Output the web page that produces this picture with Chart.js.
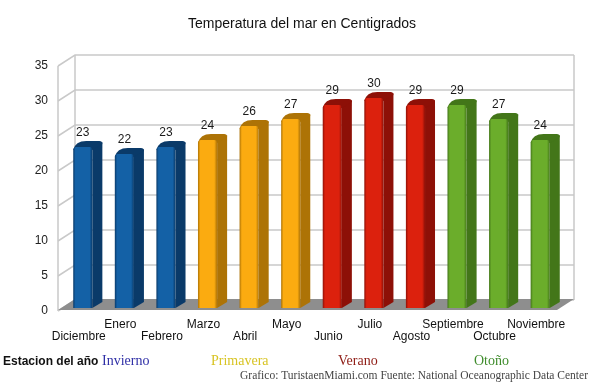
<!DOCTYPE html>
<html>
<head>
<meta charset="utf-8">
<title>Temperatura del mar</title>
<script src="https://cdn.jsdelivr.net/npm/chart.js@4.4.1/dist/chart.umd.min.js"></script>
<style>
  html, body { margin: 0; padding: 0; background: #fff; }
  #wrap { width: 600px; height: 391px; position: relative; }
</style>
</head>
<body>
<div id="wrap"><canvas id="seaChart"></canvas></div>
<script>
// Data
const months = ["Diciembre", "Enero", "Febrero", "Marzo", "Abril", "Mayo",
  "Junio", "Julio", "Agosto", "Septiembre", "Octubre", "Noviembre"];
const temps = [23, 22, 23, 24, 26, 27, 29, 30, 29, 29, 27, 24];
const monthSeason = [0, 0, 0, 1, 1, 1, 2, 2, 2, 3, 3, 3];
const seasonNames = ["Invierno", "Primavera", "Verano", "Otoño"];
const chartTitle = "Temperatura del mar en Centigrados";
const legendTitle = "Estacion del año";
const sourceText = "Grafico: TuristaenMiami.com Fuente: National Oceanographic Data Center";

// Colours per season
const frontColors = ["#1461a6", "#fbab10", "#dc210d", "#6bad2b"];
const sideColors = ["#0a3a69", "#ad7306", "#8d1007", "#437619"];
const seasonTextColors = ["#2f2fa6", "#d8c424", "#8e1b14", "#3f8c2c"];

const FONT = "'Liberation Sans', Arial, Helvetica, sans-serif";
const SERIF = "'Liberation Serif', 'Times New Roman', serif";

// 3D geometry (pixels)
const WALL_DX = 17, WALL_DY = -11;
const BAR_DX = 10, BAR_DY = -6;
const BAR_SHIFT_X = 4, BAR_SHIFT_Y = -3;

// staggered month labels: even index on the lower line, odd on the upper
const tickLabels = months.map((m, i) => (i % 2 === 0 ? ["", m] : [m, ""]));

const depth3d = {
  id: "depth3d",
  beforeDatasetsDraw(chart) {
    const { ctx, chartArea: a, scales: { y } } = chart;
    ctx.save();
    ctx.strokeStyle = "#c9c9c9";
    ctx.lineWidth = 1.5;

    // back wall + left wall gridlines
    y.ticks.forEach((t) => {
      const py = y.getPixelForValue(t.value);
      ctx.beginPath();
      ctx.moveTo(a.left, py);
      ctx.lineTo(a.left + WALL_DX, py + WALL_DY);
      ctx.lineTo(a.right + WALL_DX, py + WALL_DY);
      ctx.stroke();
    });

    // wall edges
    ctx.beginPath();
    ctx.moveTo(a.left, a.top);
    ctx.lineTo(a.left, a.bottom);
    ctx.moveTo(a.left + WALL_DX, a.top + WALL_DY);
    ctx.lineTo(a.left + WALL_DX, a.bottom + WALL_DY);
    ctx.moveTo(a.right + WALL_DX, a.top + WALL_DY);
    ctx.lineTo(a.right + WALL_DX, a.bottom + WALL_DY);
    ctx.stroke();

    // floor
    const fy = a.bottom - 1;
    ctx.fillStyle = "#8e8e8e";
    ctx.beginPath();
    ctx.moveTo(a.left, fy);
    ctx.lineTo(a.left + WALL_DX, fy + WALL_DY);
    ctx.lineTo(a.right + WALL_DX, fy + WALL_DY);
    ctx.lineTo(a.right, fy);
    ctx.closePath();
    ctx.fill();
    ctx.restore();
  },

  afterDatasetsDraw(chart) {
    const { ctx } = chart;
    const meta = chart.getDatasetMeta(0);
    ctx.save();
    meta.data.forEach((bar, i) => {
      const s = monthSeason[i];
      const w = bar.width;
      const x0 = bar.x - w / 2 + BAR_SHIFT_X;
      const x1 = x0 + w;
      const top = bar.y + BAR_SHIFT_Y;
      const base = bar.base + BAR_SHIFT_Y;
      const r = 3;

      // side face
      ctx.fillStyle = sideColors[s];
      ctx.beginPath();
      ctx.moveTo(x1, base);
      ctx.lineTo(x1, top + 1);
      ctx.lineTo(x1 + BAR_DX, top + BAR_DY + 1);
      ctx.lineTo(x1 + BAR_DX, base + BAR_DY);
      ctx.closePath();
      ctx.fill();

      // top face
      ctx.beginPath();
      ctx.moveTo(x0, top + r);
      ctx.quadraticCurveTo(x0 + 2, top + BAR_DY, x0 + BAR_DX + r, top + BAR_DY);
      ctx.lineTo(x1 + BAR_DX - r, top + BAR_DY);
      ctx.quadraticCurveTo(x1 + BAR_DX, top + BAR_DY, x1 + BAR_DX, top + BAR_DY + r);
      ctx.lineTo(x1, top + r);
      ctx.closePath();
      ctx.fill();

      // front face
      const g = ctx.createLinearGradient(x0, 0, x1, 0);
      g.addColorStop(0, sideColors[s]);
      g.addColorStop(0.12, frontColors[s]);
      g.addColorStop(0.85, frontColors[s]);
      g.addColorStop(1, sideColors[s]);
      ctx.fillStyle = g;
      ctx.beginPath();
      ctx.moveTo(x0, base);
      ctx.lineTo(x0, top + r);
      ctx.quadraticCurveTo(x0, top, x0 + r, top);
      ctx.lineTo(x1 - r, top);
      ctx.quadraticCurveTo(x1, top, x1, top + r);
      ctx.lineTo(x1, base);
      ctx.closePath();
      ctx.fill();

      // value label
      ctx.fillStyle = "#1a1a1a";
      ctx.font = "12px " + FONT;
      ctx.textAlign = "center";
      ctx.textBaseline = "middle";
      ctx.fillText(String(temps[i]), x0 + w / 2, top - 14);
    });
    ctx.restore();
  },

  afterDraw(chart) {
    const { ctx } = chart;
    const seasonX = [102, 211, 338, 474];
    ctx.save();
    ctx.textBaseline = "middle";

    // title, centred on the whole picture
    ctx.textAlign = "center";
    ctx.fillStyle = "#111";
    ctx.font = "14px " + FONT;
    ctx.fillText(chartTitle, 302, 24);

    ctx.textAlign = "left";
    ctx.font = "bold 12px " + FONT;
    ctx.fillText(legendTitle, 3, 362);

    ctx.font = "14px " + SERIF;
    seasonNames.forEach((name, i) => {
      ctx.fillStyle = seasonTextColors[i];
      ctx.fillText(name, seasonX[i], 361);
    });

    ctx.fillStyle = "#444";
    ctx.font = "11.5px " + SERIF;
    ctx.textAlign = "right";
    ctx.fillText(sourceText, 588, 376);
    ctx.restore();
  },
};

const ctx = document.getElementById("seaChart").getContext("2d");
const chart = new Chart(ctx, {
  type: "bar",
  data: {
    labels: tickLabels,
    datasets: [
      {
        label: "Temperatura",
        data: temps,
        backgroundColor: "rgba(0,0,0,0)",
        borderWidth: 0,
        barPercentage: 0.46,
        categoryPercentage: 1,
      },
    ],
  },
  options: {
    responsive: true,
    maintainAspectRatio: false,
    animation: false,
    layout: {
      padding: { left: 0, right: 43, top: 66, bottom: 40 },
    },
    plugins: {
      legend: { display: false },
      tooltip: { enabled: false },
      title: { display: false },
    },
    scales: {
      x: {
        grid: { display: false, drawTicks: false },
        border: { display: false },
        ticks: {
          color: "#111",
          font: { family: FONT, size: 12, lineHeight: 1 },
          padding: 8,
          maxRotation: 0,
          autoSkip: false,
        },
        afterFit(scale) {
          scale.height = 40;
        },
      },
      y: {
        min: 0,
        max: 35,
        grid: { display: false, drawTicks: false },
        border: { display: false },
        ticks: {
          stepSize: 5,
          color: "#222",
          font: { family: FONT, size: 12 },
          padding: 10,
        },
        afterFit(scale) {
          scale.width = 58;
        },
      },
    },
  },
  plugins: [depth3d],
});
</script>
</body>
</html>
